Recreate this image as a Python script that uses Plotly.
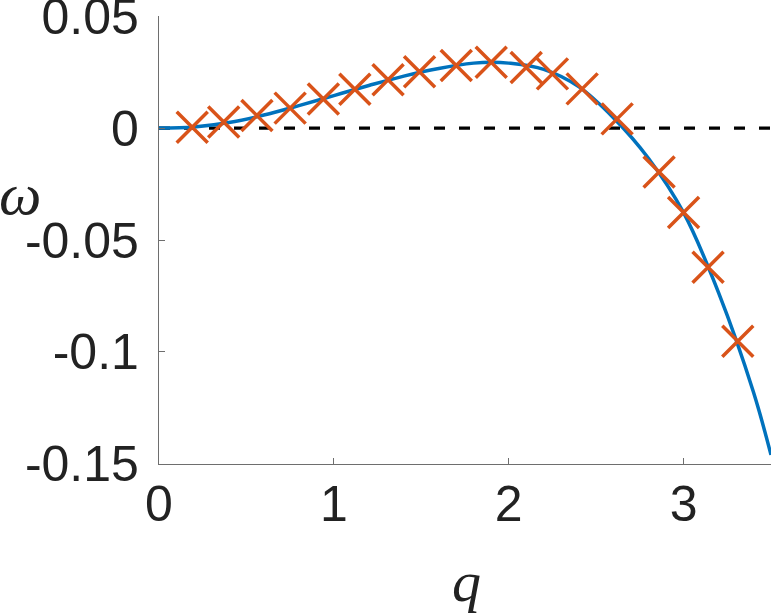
import plotly.graph_objects as go

# Continuous curve
curve_q = [0, 0.2, 0.4, 0.6, 0.8, 1.0, 1.2, 1.4, 1.6, 1.8, 1.9, 2.0, 2.2, 2.4, 2.6, 2.8, 3.0, 3.2, 3.4, 3.5]
curve_w = [0, 0.0005, 0.0025, 0.0058, 0.0100, 0.0145, 0.0190, 0.0232, 0.0266, 0.0290, 0.0294, 0.0290,
           0.0262, 0.0185, 0.0045, -0.0136, -0.0378, -0.0735, -0.1180, -0.1460]

# Sampled points (crosses)
pts_q = [0.19, 0.37, 0.56, 0.75, 0.94, 1.12, 1.31, 1.49, 1.70, 1.90, 2.10, 2.25, 2.42, 2.62, 2.86, 3.00, 3.14, 3.31]
pts_w = [0.0004, 0.0027, 0.0056, 0.0089, 0.0130, 0.0173, 0.0216, 0.0252, 0.0279, 0.0294, 0.0270, 0.0242,
         0.0175, 0.0041, -0.0196, -0.0377, -0.0622, -0.0952]

# Reference dashed line
zero_q = [0, 3.5]
zero_w = [0, 0]

x_ticks = [0, 1, 2, 3]
x_ticktext = ["0", "1", "2", "3"]
y_ticks = [-0.15, -0.1, -0.05, 0, 0.05]
y_ticktext = ["-0.15", "-0.1", "-0.05", "0", "0.05"]

fig = go.Figure()
fig.add_trace(go.Scatter(x=zero_q, y=zero_w, mode="lines",
                         line=dict(color="black", width=3.2, dash="11px,14px"),
                         showlegend=False, hoverinfo="skip"))
fig.add_trace(go.Scatter(x=curve_q, y=curve_w, mode="lines",
                         line=dict(color="#0072BD", width=3.5, shape="spline", smoothing=1.0),
                         showlegend=False))
fig.add_trace(go.Scatter(x=pts_q, y=pts_w, mode="markers",
                         marker=dict(symbol="x-thin", size=31,
                                     line=dict(color="#D95319", width=3.5)),
                         showlegend=False))

axis_common = dict(showgrid=False, zeroline=False, showline=True, linecolor="#6e6e6e", linewidth=1.3,
                   ticks="inside", ticklen=6, tickwidth=1.2, tickcolor="#6e6e6e",
                   tickfont=dict(family="Liberation Sans", size=50, color="#222222"),
                   ticklabeloverflow="allow", automargin=False, mirror=False)

fig.update_layout(
    width=775, height=615,
    margin=dict(l=159, r=4, t=16, b=150.5, autoexpand=False),
    paper_bgcolor="white", plot_bgcolor="white",
    xaxis=dict(range=[0, 3.5], tickvals=x_ticks, ticktext=x_ticktext, ticklabelstandoff=-4, **axis_common),
    yaxis=dict(range=[-0.15005, 0.05005], tickvals=y_ticks, ticktext=y_ticktext, ticklabelstandoff=9,
               **axis_common),
    annotations=[
        dict(text="<i>q</i>", xref="paper", yref="paper", x=(466 - 159) / 612, y=-(582 - 464.5) / 448.5,
             xanchor="center", yanchor="middle", showarrow=False,
             font=dict(family="Liberation Serif", size=58, color="#222222")),
        dict(text="<i>ω</i>", xref="paper", yref="paper", x=(20 - 159) / 612, y=(464.5 - 194) / 448.5,
             xanchor="center", yanchor="middle", showarrow=False,
             font=dict(family="Liberation Serif", size=60, color="#222222")),
    ],
)

fig.write_html("out.html")
